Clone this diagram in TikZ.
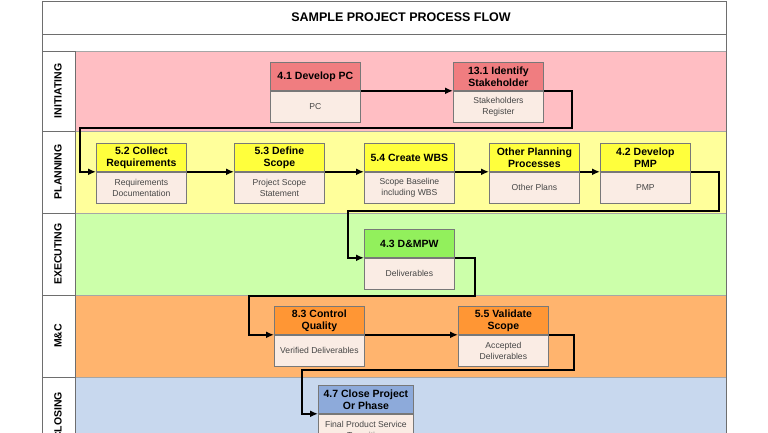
\documentclass[tikz,border=0pt]{standalone}
\usepackage{fontspec}
\setmainfont{Liberation Sans}
\usetikzlibrary{arrows.meta}
\definecolor{initlane}{RGB}{255,190,195}
\definecolor{inithdr}{RGB}{240,125,128}
\definecolor{planlane}{RGB}{255,255,155}
\definecolor{planhdr}{RGB}{255,255,60}
\definecolor{execlane}{RGB}{204,255,170}
\definecolor{exechdr}{RGB}{146,240,92}
\definecolor{mclane}{RGB}{255,180,110}
\definecolor{mchdr}{RGB}{255,150,52}
\definecolor{closelane}{RGB}{200,216,238}
\definecolor{closehdr}{RGB}{141,170,218}
\definecolor{bodyfill}{RGB}{250,236,228}
\definecolor{boxline}{RGB}{120,120,120}
\definecolor{frameline}{RGB}{110,110,110}
\definecolor{bodytext}{RGB}{70,70,70}
\tikzset{
  frame/.style={draw=frameline, line width=0.8pt},
  lanebox/.style={draw=gray!70, line width=0.7pt},
  lanelabel/.style={rotate=90, font=\fontsize{10.5}{12}\selectfont\bfseries, text=black, inner sep=0pt},
  titletext/.style={font=\fontsize{12.5}{14}\selectfont\bfseries, text=black, inner sep=0pt},
  hdr/.style={draw=boxline, line width=0.8pt, anchor=north west, minimum width=90pt,
    minimum height=28pt, inner sep=1pt, align=center, text=black,
    font=\fontsize{10.5}{12}\selectfont\bfseries},
  bdy/.style={draw=boxline, line width=0.8pt, anchor=north, fill=bodyfill, minimum width=90pt,
    minimum height=31pt, inner sep=1pt, align=center, text=bodytext,
    font=\fontsize{8.6}{11}\selectfont},
  flow/.style={draw=black, line width=1.8pt, line join=miter, -{Latex[length=8pt,width=7pt]}}
}
\begin{document}
\begin{tikzpicture}[x=1pt,y=-1pt]
\useasboundingbox (0,0) rectangle (768,433);
\clip (0,0) rectangle (768,433);
% frame rows
\filldraw[frame, fill=white] (42,1) rectangle (726,34);
\filldraw[frame, fill=white] (42,34) rectangle (726,51);
\node[titletext] (title) at (401,17.5) {SAMPLE PROJECT PROCESS FLOW};
% lanes
\filldraw[lanebox, fill=initlane] (75,51) rectangle (726,131);
\filldraw[lanebox, fill=planlane] (75,131) rectangle (726,213);
\filldraw[lanebox, fill=execlane] (75,213) rectangle (726,295);
\filldraw[lanebox, fill=mclane] (75,295) rectangle (726,377);
\filldraw[lanebox, fill=closelane] (75,377) rectangle (726,459);
\filldraw[frame, fill=white] (42,51) rectangle (75,131);
\filldraw[frame, fill=white] (42,131) rectangle (75,213);
\filldraw[frame, fill=white] (42,213) rectangle (75,295);
\filldraw[frame, fill=white] (42,295) rectangle (75,377);
\filldraw[frame, fill=white] (42,377) rectangle (75,459);
\draw[frame] (42,1) -- (42,459);
\draw[frame] (726,1) -- (726,459);
\node[lanelabel] (linit) at (58,91) {INITIATING};
\node[lanelabel] (lplan) at (58,172) {PLANNING};
\node[lanelabel] (lexec) at (58,254) {EXECUTING};
\node[lanelabel] (lmc) at (58,336) {M\&C};
\node[lanelabel] (lclose) at (58,416) {CLOSING};
% initiating
\node[hdr, fill=inithdr] (pc) at (270,62) {4.1 Develop PC};
\node[bdy] (pcb) at (pc.south) {PC};
\node[hdr, fill=inithdr] (sh) at (453,62) {13.1 Identify\\Stakeholder};
\node[bdy] (shb) at (sh.south) {Stakeholders\\Register};
% planning
\node[hdr, fill=planhdr] (crq) at (96,143) {5.2 Collect\\Requirements};
\node[bdy] (crqb) at (crq.south) {Requirements\\Documentation};
\node[hdr, fill=planhdr] (dsc) at (234,143) {5.3 Define\\Scope};
\node[bdy] (dscb) at (dsc.south) {Project Scope\\Statement};
\node[hdr, fill=planhdr] (wbs) at (364,143) {5.4 Create WBS};
\node[bdy] (wbsb) at (wbs.south) {Scope Baseline\\including WBS};
\node[hdr, fill=planhdr] (opp) at (489,143) {Other Planning\\Processes};
\node[bdy] (oppb) at (opp.south) {Other Plans};
\node[hdr, fill=planhdr] (pmp) at (600,143) {4.2 Develop\\PMP};
\node[bdy] (pmpb) at (pmp.south) {PMP};
% executing
\node[hdr, fill=exechdr] (dmp) at (364,229) {4.3 D\&MPW};
\node[bdy] (dmpb) at (dmp.south) {Deliverables};
% monitoring and controlling
\node[hdr, fill=mchdr] (cq) at (274,306) {8.3 Control\\Quality};
\node[bdy] (cqb) at (cq.south) {Verified Deliverables};
\node[hdr, fill=mchdr] (vs) at (458,306) {5.5 Validate\\Scope};
\node[bdy] (vsb) at (vs.south) {Accepted\\Deliverables};
% closing
\node[hdr, fill=closehdr, minimum width=95pt] (cp) at (318,385) {4.7 Close Project\\Or Phase};
\node[bdy, minimum width=95pt] (cpb) at (cp.south) {Final Product Service\\Transition};
% connectors
\draw[flow] (pc.south east) -- (sh.south west);
\draw[flow] (sh.south east) -- ++(28,0) |- (80,128) |- (crq.south west);
\draw[flow] (crq.south east) -- (dsc.south west);
\draw[flow] (dsc.south east) -- (wbs.south west);
\draw[flow] (wbs.south east) -- (opp.south west);
\draw[flow] (opp.south east) -- (pmp.south west);
\draw[flow] (pmp.south east) -- ++(28,0) |- (348,211) |- (dmp.south west);
\draw[flow] (dmp.south east) -- ++(20,0) |- (249,296) |- (cq.south west);
\draw[flow] (cq.south east) -- (vs.south west);
\draw[flow] (vs.south east) -- ++(25,0) |- (302,370) |- (cp.south west);
\end{tikzpicture}
\end{document}
